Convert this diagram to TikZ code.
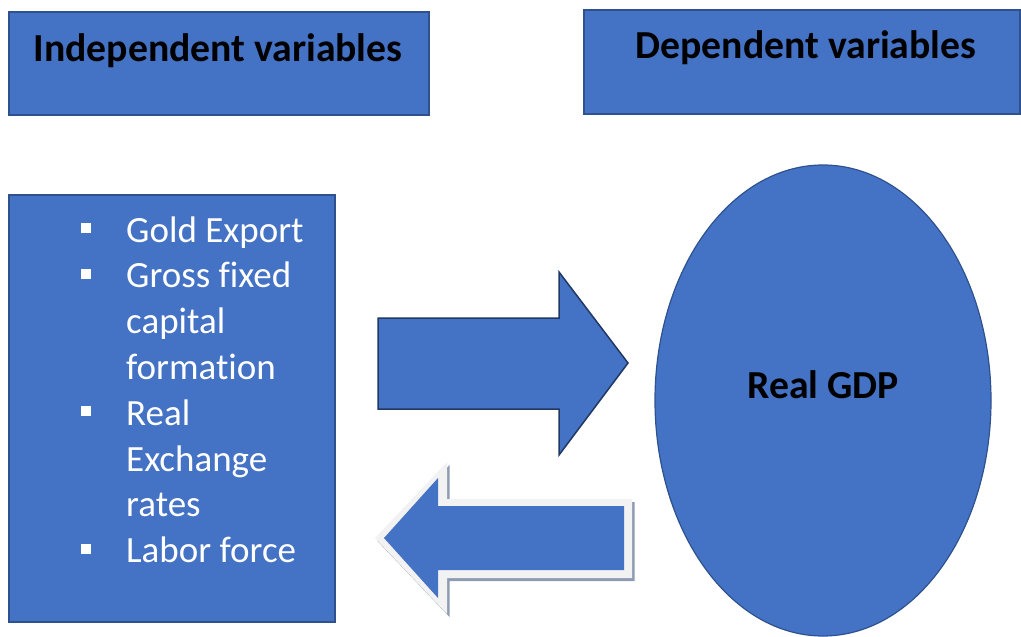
\documentclass[tikz,border=0pt]{standalone}
\usepackage{fontspec}
\setmainfont{Carlito}[Ligatures=NoCommon]
\usetikzlibrary{shapes.geometric}

\definecolor{officeblue}{HTML}{4472C4}
\definecolor{edgeblue}{HTML}{2F528F}
\definecolor{darkedge}{HTML}{203864}
\definecolor{rimgray}{HTML}{F2F2F2}
\definecolor{shadowgray}{HTML}{8E9BB3}

\begin{document}
\begin{tikzpicture}[x=1pt,y=-1pt]
    \tikzstyle{box}=[draw=edgeblue,fill=officeblue,line width=1.5pt,inner sep=0pt];
    \tikzstyle{title}=[font=\fontsize{39.7}{48}\selectfont\bfseries,text=black,inner sep=0pt];
    \tikzstyle{item}=[font=\fontsize{37}{45}\selectfont,text=white,inner sep=0pt];
    \useasboundingbox (0,0) rectangle (1021,637);

    % the two headings
    \node[box,anchor=north west,minimum width=420pt,minimum height=103pt] (indep) at (8,11) {};
    \node[box,anchor=north west,minimum width=436pt,minimum height=104pt] (dep) at (583,9) {};
    \node[title,anchor=base] (indeptitle) at (218,61.5) {Independent variables};
    \node[title,anchor=base] (deptitle) at (806,58) {Dependent variables};

    % list of variables
    \node[box,anchor=north west,minimum width=326pt,minimum height=427pt] (vars) at (8,194) {};
    \foreach \txt [count=\i] in {Gold Export,Gross fixed,capital,formation,Real,Exchange,rates,Labor force}
        \node[item,anchor=base west] (item\i) at (126,{242+45.8*(\i-1)}) {\txt};
    \foreach \i in {1,2,5,8}
        \fill[white] ([xshift=-45pt,yshift=9pt]item\i.base west) rectangle +(10,-10);

    % outcome
    \node[ellipse,draw=edgeblue,fill=officeblue,line width=1.2pt,minimum width=336pt,minimum height=471pt,inner sep=0pt] (gdp) at (823,400.5) {};
    \node[title,anchor=base] (gdptitle) at (823,398) {Real GDP};

    % arrow to the right
    \draw[draw=darkedge,fill=officeblue,line width=1.5pt] (378,318) -- (559,318) -- (559,272) -- (628,363)
        -- (559,455) -- (559,409) -- (378,409) -- cycle;

    % arrow back, with a pale rim and a thin shadow
    \fill[shadowgray,shift={(2.5,3)}] (375,538) -- (447,462) -- (447,499) -- (632,499)
        -- (632,578) -- (447,578) -- (447,614) -- cycle;
    \fill[rimgray] (375,538) -- (447,462) -- (447,499) -- (632,499)
        -- (632,578) -- (447,578) -- (447,614) -- cycle;
    \fill[officeblue] (384,538) -- (438,478) -- (438,506) -- (624,506)
        -- (624,570) -- (438,570) -- (438,598) -- cycle;
\end{tikzpicture}
\end{document}
